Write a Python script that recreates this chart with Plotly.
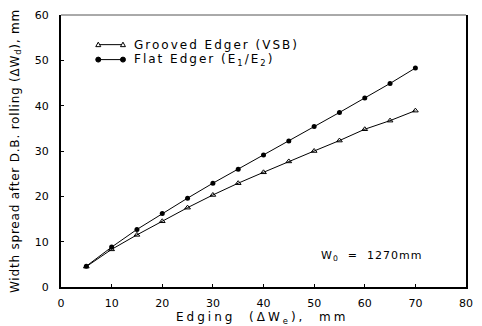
import plotly.graph_objects as go

edging = [5, 10, 15, 20, 25, 30, 35, 40, 45, 50, 55, 60, 65, 70]
grooved = [4.5, 8.3, 11.5, 14.5, 17.5, 20.3, 22.9, 25.3, 27.7, 30.0, 32.3, 34.8, 36.7, 38.9]
flat = [4.6, 8.8, 12.7, 16.2, 19.6, 22.9, 26.0, 29.1, 32.2, 35.4, 38.5, 41.7, 44.9, 48.3]
x_ticks = [0, 10, 20, 30, 40, 50, 60, 70, 80]
y_ticks = [0, 10, 20, 30, 40, 50, 60]
series_names = ["Grooved Edger (VSB)", "Flat Edger (E<sub>1</sub>/E<sub>2</sub>)"]

font = "DejaVu Sans"


def spaced(t, px):
    return f'<span style="letter-spacing:{px}px">{t}</span>'


fig = go.Figure()
fig.add_trace(go.Scatter(
    x=edging, y=grooved, mode="lines+markers", name=series_names[0],
    line=dict(color="black", width=1),
    marker=dict(symbol="triangle-up-open", size=5, color="black", line=dict(width=1))))
fig.add_trace(go.Scatter(
    x=edging, y=flat, mode="lines+markers", name=series_names[1],
    line=dict(color="black", width=1),
    marker=dict(symbol="circle", size=5, color="black")))

fig.update_layout(
    width=482, height=326,
    margin=dict(l=61, r=9, t=12, b=39),
    paper_bgcolor="white", plot_bgcolor="white",
    font=dict(family=font, size=11, color="black"),
    showlegend=False,
    xaxis=dict(range=[0, 80], tickvals=x_ticks, showgrid=False, zeroline=False,
               showline=True, linecolor="black", linewidth=2,
               ticks="inside", ticklen=3, tickcolor="black", ticklabelstandoff=5),
    yaxis=dict(range=[0, 60], tickvals=y_ticks, showgrid=False, zeroline=False,
               showline=True, linecolor="black", linewidth=2, mirror=True,
               ticks="inside", ticklen=3, tickcolor="black", ticklabelstandoff=8,
               title=dict(text=spaced("Width spread after D.B. rolling (ΔW<sub>d</sub>), mm", 0.8),
                          standoff=13, font=dict(size=12, family=font))),
)
fig.add_shape(type="line", xref="paper", yref="paper", x0=0, x1=1, y0=1, y1=1,
              line=dict(color="#555", width=1))

# x-axis title
fig.add_annotation(x=0.496, y=-0.115, xref="paper", yref="paper", xanchor="center",
                   yanchor="middle", showarrow=False,
                   text=spaced("Edging  (ΔW<sub>e</sub>),  mm", 3),
                   font=dict(size=12, family=font))

# manual legend
leg_x0, leg_x1, leg_tx = 0.092, 0.153, 0.175
leg_rows = [0.891, 0.836]
for i, yy in enumerate(leg_rows):
    fig.add_shape(type="line", xref="paper", yref="paper", x0=leg_x0, x1=leg_x1, y0=yy, y1=yy,
                  line=dict(color="black", width=1))
    for xx in (leg_x0, leg_x1):
        if i == 0:
            fig.add_shape(type="path", xref="paper", yref="paper", xsizemode="pixel",
                          ysizemode="pixel", xanchor=xx, yanchor=yy,
                          path="M-2.5,-2 L2.5,-2 L0,2.5 Z",
                          line=dict(color="black", width=1), fillcolor="white")
        else:
            fig.add_shape(type="circle", xref="paper", yref="paper", xsizemode="pixel",
                          ysizemode="pixel", xanchor=xx, yanchor=yy,
                          x0=-2.5, x1=2.5, y0=-2.5, y1=2.5,
                          line=dict(color="black", width=1), fillcolor="black")
    fig.add_annotation(x=leg_tx, y=yy, xref="paper", yref="paper", xanchor="left",
                       yanchor="middle", showarrow=False,
                       text=spaced(series_names[i], 2), font=dict(size=12, family=font))

fig.add_annotation(x=51, y=6.8, xref="x", yref="y", xanchor="left", showarrow=False,
                   text=spaced("W<sub>0</sub>  =  1270mm", 1), font=dict(size=11, family=font))
fig.write_html("out.html")
